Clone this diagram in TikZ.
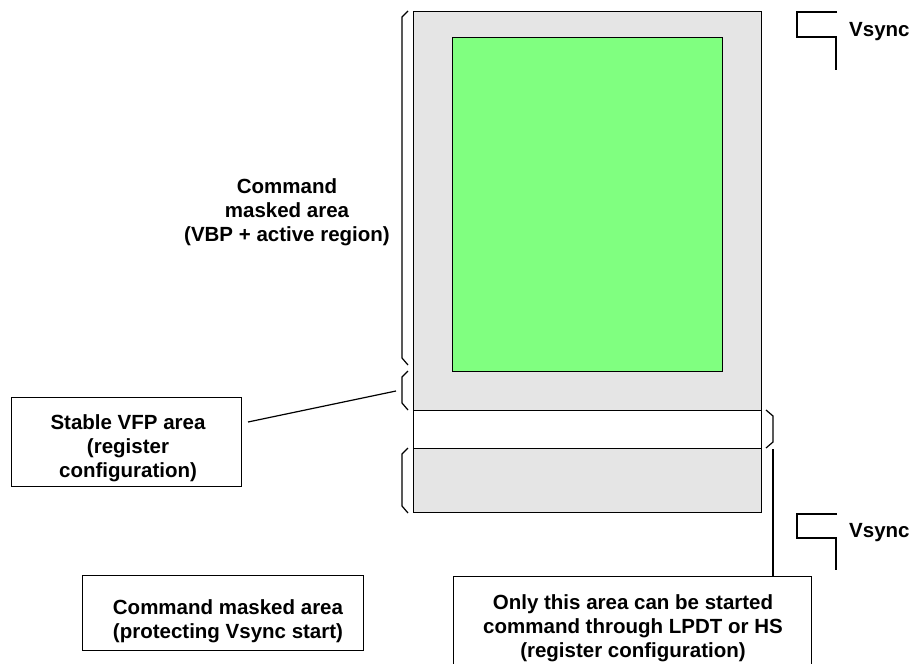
\documentclass[tikz,border=0pt]{standalone}
\usepackage{fontspec}
\setmainfont{Liberation Sans}
\begin{document}
\begin{tikzpicture}[x=1pt,y=-1pt,
  lbl/.style={font=\fontsize{20.5}{24}\selectfont\bfseries, align=center, inner sep=0pt},
  area/.style={draw, line width=1.3pt, inner sep=0pt, anchor=north west},
  txtbox/.style={draw, line width=1.2pt, inner sep=0pt, anchor=north west},
  brk/.style={line width=1.2pt},
  sig/.style={line width=1.4pt}]
\useasboundingbox (0,0) rectangle (916,664);
\fill[white] (0,0) rectangle (916,664);
% main frame
\node[area, fill=black!10, minimum width=348pt, minimum height=501pt] (frame) at (413,11) {};
\node[area, fill={rgb,255:red,128;green,255;blue,128}, minimum width=270pt, minimum height=334pt] (active) at (452,37) {};
\node[area, fill=white, minimum width=348pt, minimum height=38pt] (band) at (413,410) {};
% left brackets
\draw[brk] (408,11) -- (402,17) -- (402,358) -- (408,365);
\draw[brk] (408,371) -- (402,377) -- (402,403) -- (408,410);
\draw[brk] (408,448) -- (402,454) -- (402,506) -- (408,513);
\coordinate (vfpend) at (396,391);
% right bracket
\draw[brk] (766,410) -- (773,416) -- (773,442) -- (766,448);
\coordinate (bandbr) at (773,449);
% text boxes
\node[txtbox, minimum width=230pt, minimum height=89pt] (vfpbox) at (11,397) {};
\node[lbl] (vfplbl) at (128,448) {Stable VFP area\\(register\\configuration)};
\node[txtbox, minimum width=281pt, minimum height=75pt] (cmdbox) at (82,575) {};
\node[lbl] (cmdlbl) at (228,621) {Command masked area\\(protecting Vsync start)};
\node[txtbox, minimum width=358pt, minimum height=110pt] (onlybox) at (453,576) {};
\node[lbl] (onlylbl) at (633,628) {Only this area can be started\\command through LPDT or HS\\(register configuration)};
\node[lbl] (maskedlbl) at (287,212) {Command\\masked area\\(VBP + active region)};
% connectors
\coordinate (vfpstart) at (248,422);
\draw[brk] (vfpstart) -- (vfpend);
\coordinate (onlytop) at (773,576);
\draw[brk] (bandbr) -- (onlytop);
% Vsync signals
\draw[sig] (837,12) -- (797,12) -- (797,37) -- (836,37) -- (836,70);
\node[lbl, anchor=west] (vs1) at (849,32) {Vsync};
\draw[sig] (837,514) -- (797,514) -- (797,538) -- (836,538) -- (836,570);
\node[lbl, anchor=west] (vs2) at (849,533) {Vsync};
\end{tikzpicture}
\end{document}
